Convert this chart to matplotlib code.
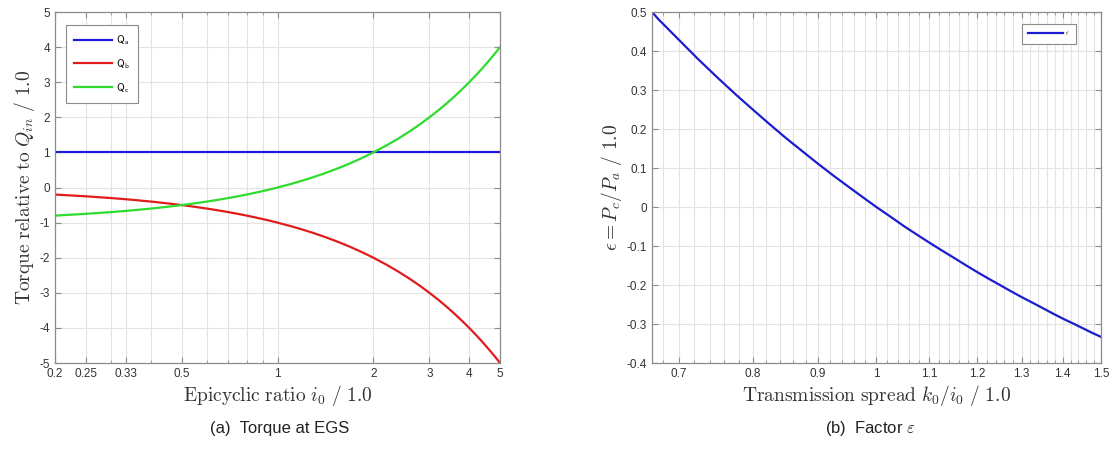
"""
Torque at EGS and factor epsilon, two log-x panels.
"""
import numpy as np
import matplotlib
matplotlib.use('Agg')
import matplotlib.pyplot as plt
from matplotlib.ticker import FixedLocator, FixedFormatter, NullFormatter, LogLocator, MultipleLocator

plt.rcParams['mathtext.fontset'] = 'cm'
plt.rcParams['axes.unicode_minus'] = False
plt.rcParams['font.family'] = ['Liberation Sans', 'DejaVu Sans']

# ---- data ----
# (a) torque relative to Q_in over the epicyclic ratio
i0 = [0.2, 0.25, 0.3, 0.333, 0.35, 0.4, 0.45, 0.5, 0.55, 0.6, 0.65, 0.7, 0.75,
      0.8, 0.85, 0.9, 0.95, 1.0, 1.1, 1.2, 1.3, 1.4, 1.5, 1.6, 1.7, 1.8, 1.9,
      2.0, 2.2, 2.4, 2.6, 2.8, 3.0, 3.2, 3.4, 3.6, 3.8, 4.0, 4.2, 4.4, 4.6,
      4.8, 5.0]
q_a = [1.0] * len(i0)
q_b = [-0.2, -0.25, -0.3, -0.333, -0.35, -0.4, -0.45, -0.5, -0.55, -0.6,
       -0.65, -0.7, -0.75, -0.8, -0.85, -0.9, -0.95, -1.0, -1.1, -1.2, -1.3,
       -1.4, -1.5, -1.6, -1.7, -1.8, -1.9, -2.0, -2.2, -2.4, -2.6, -2.8, -3.0,
       -3.2, -3.4, -3.6, -3.8, -4.0, -4.2, -4.4, -4.6, -4.8, -5.0]
q_c = [-0.8, -0.75, -0.7, -0.667, -0.65, -0.6, -0.55, -0.5, -0.45, -0.4,
       -0.35, -0.3, -0.25, -0.2, -0.15, -0.1, -0.05, 0.0, 0.1, 0.2, 0.3, 0.4,
       0.5, 0.6, 0.7, 0.8, 0.9, 1.0, 1.2, 1.4, 1.6, 1.8, 2.0, 2.2, 2.4, 2.6,
       2.8, 3.0, 3.2, 3.4, 3.6, 3.8, 4.0]
i0_ticks = [0.2, 0.25, 0.333, 0.5, 1, 2, 3, 4, 5]
i0_labels = ['0.2', '0.25', '0.33', '0.5', '1', '2', '3', '4', '5']

# (b) factor epsilon over the transmission spread
spread = [0.667, 0.675, 0.7, 0.725, 0.75, 0.775, 0.8, 0.825, 0.85, 0.875,
          0.9, 0.925, 0.95, 0.975, 1.0, 1.025, 1.05, 1.075, 1.1, 1.125, 1.15,
          1.175, 1.2, 1.225, 1.25, 1.275, 1.3, 1.325, 1.35, 1.375, 1.4, 1.425,
          1.45, 1.475, 1.5]
eps = [0.5, 0.481, 0.429, 0.379, 0.333, 0.290, 0.25, 0.212, 0.176, 0.143,
       0.111, 0.081, 0.053, 0.026, 0.0, -0.024, -0.048, -0.070, -0.091,
       -0.111, -0.130, -0.149, -0.167, -0.184, -0.2, -0.216, -0.231, -0.245,
       -0.259, -0.273, -0.286, -0.298, -0.310, -0.322, -0.333]
spread_ticks = [0.7, 0.8, 0.9, 1.0, 1.1, 1.2, 1.3, 1.4, 1.5]
spread_labels = ['0.7', '0.8', '0.9', '1', '1.1', '1.2', '1.3', '1.4', '1.5']
eps_ticks = [-0.4, -0.3, -0.2, -0.1, 0.0, 0.1, 0.2, 0.3, 0.4, 0.5]
eps_labels = ['-0.4', '-0.3', '-0.2', '-0.1', '0', '0.1', '0.2', '0.3', '0.4', '0.5']

AX_COL = '#8c8c8c'
TXT_COL = '#333333'
GRID_COL = '#e3e3e3'
LW = 1.6
LABEL_SIZE = 14

fig = plt.figure(figsize=(11.14, 4.54), dpi=100)
ax1 = fig.add_axes([0.0494, 0.2004, 0.3995, 0.7731])
ax2 = fig.add_axes([0.5853, 0.2004, 0.4030, 0.7731])


def style(ax):
    for s in ax.spines.values():
        s.set_color(AX_COL)
        s.set_linewidth(0.9)
    ax.tick_params(which='both', direction='in', top=True, right=True,
                   colors=AX_COL, labelcolor=TXT_COL, labelsize=8.5)
    ax.tick_params(which='major', length=4)
    ax.tick_params(which='minor', length=2)
    ax.grid(True, which='both', color=GRID_COL, linewidth=0.8)
    ax.set_axisbelow(True)


# ---- (a) ----
ax1.plot(i0, q_a, color='#1c1ce0', lw=LW, label=r'$\mathsf{Q_a}$')
ax1.plot(i0, q_b, color='#e01c1c', lw=LW, label=r'$\mathsf{Q_b}$')
ax1.plot(i0, q_c, color='#2edc2e', lw=LW, label=r'$\mathsf{Q_c}$')
ax1.set_xscale('log')
ax1.set_xlim(0.2, 5)
ax1.set_ylim(-5, 5)
ax1.xaxis.set_major_locator(FixedLocator(i0_ticks))
ax1.xaxis.set_major_formatter(FixedFormatter(i0_labels))
ax1.xaxis.set_minor_locator(LogLocator(base=10, subs=np.arange(2, 10)))
ax1.xaxis.set_minor_formatter(NullFormatter())
ax1.set_yticks(np.arange(-5, 6, 1))
style(ax1)
ax1.set_xlabel(r'$\mathrm{Epicyclic\ ratio}\ i_0\ /\ 1.0$', fontsize=LABEL_SIZE,
               color=TXT_COL, labelpad=2)
ax1.set_ylabel(r'$\mathrm{Torque\ relative\ to}\ Q_{in}\ /\ 1.0$', fontsize=LABEL_SIZE,
               color=TXT_COL, labelpad=2)
leg1 = ax1.legend(loc='upper left', fontsize=7.5, handlelength=3.6, labelspacing=0.95,
                  borderpad=0.8, handletextpad=0.4, fancybox=False, edgecolor=AX_COL,
                  framealpha=1, borderaxespad=0, bbox_to_anchor=(0.025, 0.963))
leg1.get_frame().set_linewidth(0.8)

# ---- (b) ----
ax2.plot(spread, eps, color='#1c1cd0', lw=LW, label=r'$\epsilon$')
ax2.set_xscale('log')
ax2.set_xlim(0.667, 1.5)
ax2.set_ylim(-0.4, 0.5)
ax2.xaxis.set_major_locator(FixedLocator(spread_ticks))
ax2.xaxis.set_major_formatter(FixedFormatter(spread_labels))
ax2.xaxis.set_minor_locator(MultipleLocator(0.02))
ax2.xaxis.set_minor_formatter(NullFormatter())
ax2.yaxis.set_major_locator(FixedLocator(eps_ticks))
ax2.yaxis.set_major_formatter(FixedFormatter(eps_labels))
style(ax2)
ax2.grid(False, which='minor', axis='y')
ax2.set_xlabel(r'$\mathrm{Transmission\ spread}\ k_0/i_0\ /\ 1.0$', fontsize=LABEL_SIZE,
               color=TXT_COL, labelpad=2)
ax2.set_ylabel(r'$\epsilon = P_c/P_a\ /\ 1.0$', fontsize=LABEL_SIZE, color=TXT_COL,
               labelpad=2)
leg2 = ax2.legend(loc='upper right', fontsize=5, handlelength=5.0, borderpad=0.9,
                  handletextpad=0.3, fancybox=False, edgecolor=AX_COL, framealpha=1,
                  borderaxespad=0, bbox_to_anchor=(0.944, 0.966))
leg2.get_frame().set_linewidth(0.8)

# ---- captions ----
fig.text(0.251, 0.057, '(a)  Torque at EGS', ha='center', va='center',
         fontsize=12, color='#222222')
fig.text(0.781, 0.057, r'(b)  Factor $\varepsilon$', ha='center', va='center',
         fontsize=12, color='#222222')

fig.savefig('out.png', dpi=100)
